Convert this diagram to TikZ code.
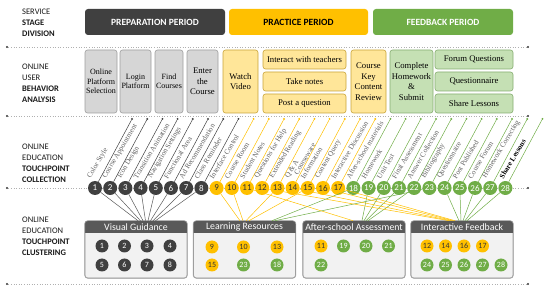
\documentclass[tikz,border=0pt]{standalone}
\usepackage{fontspec}
\setmainfont{Liberation Serif}
\newfontfamily\calfont{Carlito}
\usetikzlibrary{calc}
\definecolor{prepdark}{HTML}{404040}
\definecolor{pracyel}{HTML}{FFC000}
\definecolor{feedgrn}{HTML}{70AD47}
\definecolor{graybox}{HTML}{D6D6D6}
\definecolor{grayedge}{HTML}{9E9E9E}
\definecolor{yelbox}{HTML}{FFE699}
\definecolor{yeledge}{HTML}{C9A43A}
\definecolor{grnbox}{HTML}{C5E0B4}
\definecolor{grnedge}{HTML}{86AD70}
\definecolor{hdrdark}{HTML}{595959}
\definecolor{clbody}{HTML}{F2F2F2}
\definecolor{lblgray}{HTML}{606060}
\definecolor{dotgray}{HTML}{B0B0B0}
\tikzset{
  sidelbl/.style={anchor=north west, align=left, inner sep=0pt, text=black!90,
    font=\calfont\fontsize{8.5}{10.7}\selectfont},
  stagebar/.style={rounded corners=3pt, minimum height=26pt, inner sep=0pt,
    font=\calfont\bfseries\fontsize{9.5}{10}\selectfont},
  behbox/.style={draw, rounded corners=2.5pt, inner sep=0pt, align=center, line width=0.6pt,
    font=\fontsize{8.7}{10.5}\selectfont},
  smallbeh/.style={font=\fontsize{8}{9.3}\selectfont},
  graybeh/.style={behbox, fill=graybox, draw=grayedge},
  yelbeh/.style={behbox, fill=yelbox, draw=yeledge},
  grnbeh/.style={behbox, fill=grnbox, draw=grnedge},
  tp/.style={circle, inner sep=0pt, minimum size=14pt, font=\calfont\fontsize{9}{9}\selectfont},
  cc/.style={circle, inner sep=0pt, minimum size=13pt, font=\calfont\fontsize{8}{8}\selectfont},
  cdark/.style={cc, fill=prepdark, text=white},
  cyel/.style={cc, fill=pracyel, text=black!80},
  cgrn/.style={cc, fill=feedgrn, text=white},
  enddot/.style={circle, inner sep=0pt, minimum size=2.2pt},
  tplabel/.style={rotate=59, anchor=south west, inner sep=0pt, text=lblgray,
    font=\fontsize{7.3}{8}\selectfont},
  dotline/.style={dotgray, dotted, line width=0.6pt},
  conn/.style={line width=0.5pt},
  clbox/.style={draw=grayedge, fill=clbody, rounded corners=3pt, inner sep=0pt, line width=0.6pt},
  hdrtext/.style={inner sep=0pt, text=white, font=\calfont\fontsize{9.8}{10}\selectfont},
}
\begin{document}
\begin{tikzpicture}[x=1pt,y=-1pt]
\useasboundingbox (0,0) rectangle (550,291);

% dotted separators
\foreach \yy/\n in {47/a,116/b,188/c,284/d}{
  \node[enddot, fill=black!80] (L\n1) at (7,\yy) {};
  \node[enddot, fill=black!80] (L\n2) at (528,\yy) {};
  \draw[dotline] (L\n1) -- (L\n2);
}

% side labels
\node[sidelbl] (s1) at (22,9.2) {SERVICE\\\textbf{STAGE}\\\textbf{DIVISION}};
\node[sidelbl] (s2) at (22,64.2) {ONLINE\\USER\\\textbf{BEHAVIOR}\\\textbf{ANALYSIS}};
\node[sidelbl] (s3) at (22,144.2) {ONLINE\\EDUCATION\\\textbf{TOUCHPOINT}\\\textbf{COLLECTION}};
\node[sidelbl] (s4) at (22,217.2) {ONLINE\\EDUCATION\\\textbf{TOUCHPOINT}\\\textbf{CLUSTERING}};

% stage bars
\node[stagebar, fill=prepdark, text=white, minimum width=140pt] (sp) at (155,22) {PREPARATION PERIOD};
\node[stagebar, fill=pracyel, text=black, minimum width=139pt] (sr) at (298.5,22) {PRACTICE PERIOD};
\node[stagebar, fill=feedgrn, text=white, minimum width=140pt] (sf) at (443,22) {FEEDBACK PERIOD};

% behaviour boxes
\node[graybeh, smallbeh, minimum width=32pt, minimum height=63pt] (b1) at (101,81.5) {Online\\Platform\\Selection};
\node[graybeh, smallbeh, minimum width=31pt, minimum height=63pt] (b2) at (135.5,81.5) {Login\\Platform};
\node[graybeh, smallbeh, minimum width=28pt, minimum height=63pt] (b3) at (169,81.5) {Find\\Courses};
\node[graybeh, minimum width=31pt, minimum height=63pt] (b4) at (202.5,81.5) {Enter\\the\\Course};
\node[yelbeh, minimum width=35pt, minimum height=63pt] (b5) at (240.5,81.5) {Watch\\Video};
\node[yelbeh, minimum width=83pt, minimum height=19pt] (b6a) at (304.5,59.5) {Interact with teachers};
\node[yelbeh, minimum width=83pt, minimum height=19pt] (b6b) at (304.5,81.5) {Take notes};
\node[yelbeh, minimum width=83pt, minimum height=19pt] (b6c) at (304.5,103.5) {Post a question};
\node[yelbeh, minimum width=35pt, minimum height=63pt] (b7) at (368.5,81.5) {Course\\Key\\Content\\Review};
\node[grnbeh, minimum width=43pt, minimum height=63pt] (b8) at (411.5,81.5) {Complete\\Homework\\\&\\Submit};
\node[grnbeh, minimum width=78pt, minimum height=19pt] (b9a) at (474,59.5) {Forum Questions};
\node[grnbeh, minimum width=78pt, minimum height=19pt] (b9b) at (474,81.5) {Questionnaire};
\node[grnbeh, minimum width=78pt, minimum height=19pt] (b9c) at (474,103.5) {Share Lessons};

% touchpoint circles, rising lines and end dots
\foreach \i in {1,...,28}{
  \pgfmathsetmacro\xx{95+(\i-1)*15.2}
  \pgfmathsetmacro\dx{95+(\i-1)*15.2+37}
  \ifnum\i<9 \def\cl{prepdark}\def\tc{white}\else\ifnum\i<18 \def\cl{pracyel}\def\tc{black!80}\else\def\cl{feedgrn}\def\tc{white}\fi\fi
  \node[tp, fill=\cl, text=\tc] (t\i) at (\xx,188) {\i};
  \node[enddot, fill=\cl] (d\i) at (\dx,119) {};
  \draw[conn, draw=\cl] (t\i) -- (d\i);
}

% touchpoint labels
\foreach \i/\lab in {1/Color Style, 2/Course Appointment, 3/Icon Design, 4/Transition Animation,
  5/Navigation Settings, 6/Functional Area, 7/Ad Recommendation, 8/Class Reminder,
  9/Interface Control, 10/Course Room, 11/Student Notes, 12/Questions for Help,
  13/Extended Reading, 14/Q \& A, 16/Content Query, 17/Interactive Discussion,
  18/After-school materials, 19/Homework, 20/Unit Test, 21/Final Assessment,
  22/Answer Collection, 23/Bibliography, 24/Questionnaire, 25/Post Published,
  26/Course Forum, 27/Homework Correcting}{
  \node[tplabel] (lab\i) at ($(t\i)+(-3,-8.5)$) {\lab};
}
\node[tplabel, align=center] (lab15) at ($(t15)+(-3,-8.5)$) {Courseware\\Information};
\node[tplabel, text=black, font=\bfseries\fontsize{7.3}{8}\selectfont] (lab28) at ($(t28)+(-2,-8.5)$) {Share Lessons};

% cluster boxes
\foreach \nm/\cx/\ttl in {vg/136/Visual Guidance, lr/244.5/Learning Resources, as/354/After-school Assessment, if/462/Interactive Feedback}{
  \node[clbox, minimum width=102pt, minimum height=57pt] (\nm) at (\cx,249.5) {};
  \begin{scope}
    \clip[rounded corners=3pt] (\nm.south west) rectangle (\nm.north east);
    \fill[hdrdark] (\nm.north west) rectangle ($(\nm.north east)+(0,12.5)$);
  \end{scope}
  \draw[grayedge, line width=0.6pt, rounded corners=3pt] (\nm.south west) rectangle (\nm.north east);
  \node[hdrtext, minimum width=102pt, minimum height=12.5pt, anchor=north] (\nm h) at (\nm.north) {\ttl};
}

% cluster members
\foreach \n/\x/\y/\s in {1/102/246/cdark, 2/124.5/246/cdark, 3/147/246/cdark, 4/170/246/cdark,
  5/102/265/cdark, 6/124.5/265/cdark, 7/147/265/cdark, 8/170/265/cdark}{
  \node[\s] (vgc\n) at (\x,\y) {\n};
}
\foreach \n/\x/\y/\s in {9/212/247/cyel, 10/243.5/247/cyel, 13/277/247/cyel,
  15/212/265/cyel, 23/243.5/265/cgrn, 18/277/265/cgrn}{
  \node[\s] (lrc\n) at (\x,\y) {\n};
}
\foreach \n/\x/\y/\s in {11/321/246/cyel, 19/343.5/246/cgrn, 20/366/246/cgrn, 21/388.5/246/cgrn,
  22/321/265/cgrn}{
  \node[\s] (asc\n) at (\x,\y) {\n};
}
\foreach \n/\x/\y/\s in {12/427/246/cyel, 14/445.5/246/cyel, 16/464/246/cyel, 17/482.5/246/cyel,
  24/427/265/cgrn, 25/445.5/265/cgrn, 26/464/265/cgrn, 27/482.5/265/cgrn, 28/501/265/cgrn}{
  \node[\s] (ifc\n) at (\x,\y) {\n};
}

% connectors to clusters
\foreach \i in {1,...,8}{
  \pgfmathsetmacro\sh{2+(\i-1)*2.5}
  \draw[conn, draw=hdrdark] (t\i) -- ([xshift=\sh pt]vgh.north);
}
\foreach \i/\sh/\cl in {9/-4.5/pracyel, 10/-1.5/pracyel, 13/1.5/pracyel, 15/4.5/pracyel,
  18/27.5/feedgrn, 23/30.5/feedgrn}{
  \draw[conn, draw=\cl] (t\i) -- ([xshift=\sh pt]lrh.north);
}
\foreach \i/\sh/\cl in {11/-1/pracyel, 19/8/feedgrn, 20/10/feedgrn, 21/12/feedgrn, 22/14/feedgrn}{
  \draw[conn, draw=\cl] (t\i) -- ([xshift=\sh pt]ash.north);
}
\foreach \i/\sh/\cl in {12/-13/pracyel, 14/-11/pracyel, 16/-9/pracyel, 17/-7/pracyel,
  24/-3/feedgrn, 25/-1/feedgrn, 26/1/feedgrn, 27/3/feedgrn, 28/5/feedgrn}{
  \draw[conn, draw=\cl] (t\i) -- ([xshift=\sh pt]ifh.north);
}
\end{tikzpicture}
\end{document}
